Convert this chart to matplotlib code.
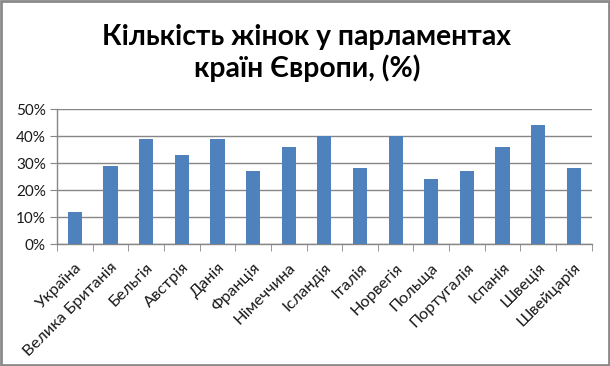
import matplotlib
matplotlib.use("Agg")
import matplotlib.pyplot as plt
from matplotlib.patches import Rectangle
from matplotlib.ticker import FixedLocator, PercentFormatter

categories = ["Україна", "Велика Британія", "Бельгія", "Австрія", "Данія",
              "Франція", "Німеччина", "Ісландія", "Італія", "Норвегія",
              "Польща", "Португалія", "Іспанія", "Швеція", "Швейцарія"]
values = [12, 29, 39, 33, 39, 27, 36, 40, 28, 40, 24, 27, 36, 44, 28]
yticks = [0, 10, 20, 30, 40, 50]
title = "Кількість жінок у парламентах\nкраїн Європи, (%)"

plt.rcParams['font.family'] = ['Lato', 'DejaVu Sans']

fig = plt.figure(figsize=(6.1, 3.66), dpi=100)
fig.patch.set_facecolor("white")
fig.patches.append(Rectangle((0.0015, 0.0025), 0.997, 0.995, transform=fig.transFigure,
                             fill=False, edgecolor="#8a8a8a", linewidth=2.0))

ax = fig.add_axes([0.0934, 0.3333, 0.8766, 0.3687])
x = list(range(len(categories)))
ax.bar(x, values, width=0.4, color="#4F81BD", zorder=3)

ax.set_xlim(-0.5, len(categories) - 0.5)
ax.set_ylim(0, 50)
ax.set_yticks(yticks)
ax.yaxis.set_major_formatter(PercentFormatter(decimals=0))
ax.grid(axis="y", color="#868686", linewidth=1.0, zorder=0)

ax.set_xticks(x)
ax.set_xticklabels(categories, rotation=45, ha="right", rotation_mode="anchor",
                   fontsize=11.8, color="#1a1a1a")
ax.xaxis.set_minor_locator(FixedLocator([i - 0.5 for i in range(len(categories) + 1)]))
ax.tick_params(axis="x", which="major", length=0, pad=12)
ax.tick_params(axis="x", which="minor", length=5, color="#868686", direction="out")
ax.tick_params(axis="y", length=5, color="#868686", labelsize=11, labelcolor="#1a1a1a", pad=3)

for s in ["top", "right"]:
    ax.spines[s].set_visible(False)
for s in ["left", "bottom"]:
    ax.spines[s].set_color("#868686")
    ax.spines[s].set_linewidth(1.0)

fig.text(0.503, 0.855, title, ha="center", va="center", fontsize=20.3,
         fontweight="bold", linespacing=1.22, color="black")

fig.savefig("out.png", dpi=100, facecolor="white")
